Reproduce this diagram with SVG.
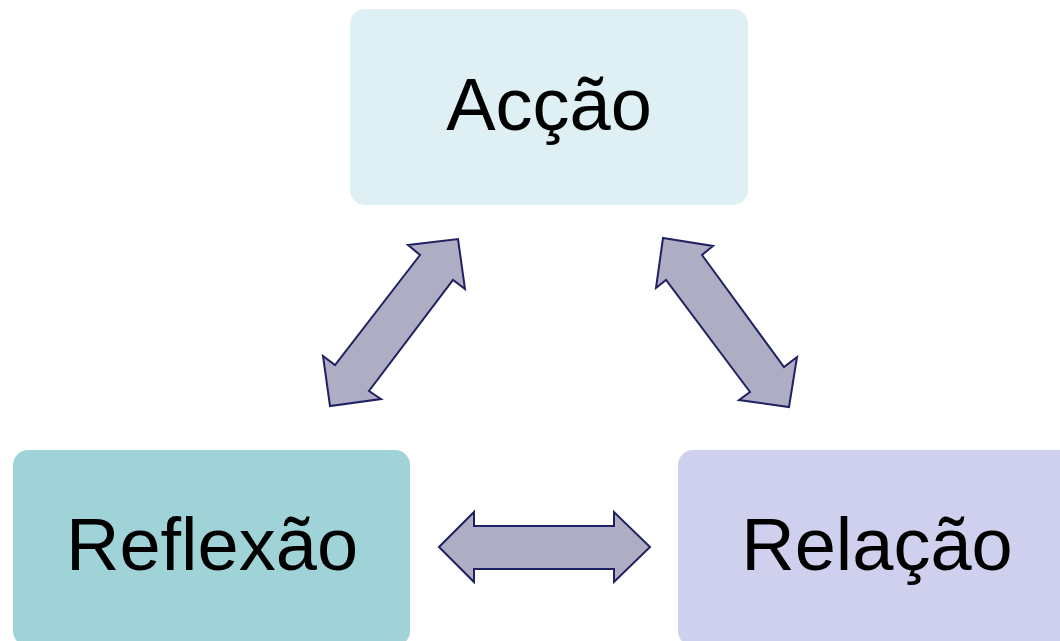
<svg xmlns="http://www.w3.org/2000/svg" width="1060" height="641" viewBox="0 0 1060 641">
<style>
.lbl{font-family:"Liberation Sans",Arial,sans-serif;font-size:74px;fill:#000;text-anchor:middle}
.arr{fill:#ADAEC4;stroke:#1F2162;stroke-width:2;stroke-linejoin:miter}
</style>
<rect width="1060" height="641" fill="#FFFFFF"/>
<g id="accao">
<rect x="350" y="9" width="398" height="196" rx="15" fill="#DFF0F4"/>
<text class="lbl" x="549" y="130">Acção</text>
</g>
<g id="reflexao">
<rect x="13" y="450" width="397" height="196" rx="15" fill="#A0D3D8"/>
<text class="lbl" x="212" y="570">Reflexão</text>
</g>
<g id="relacao">
<rect x="678" y="450" width="398" height="196" rx="15" fill="#CFCFEE"/>
<text class="lbl" x="877" y="570">Relação</text>
</g>
<g id="connectors">
<polygon class="arr" points="458,239 465,289 453,280 369,391 381,399 330,406 323,356 335,365 420,255 408,245"/>
<polygon class="arr" points="663,238 713,246 702,255 784,367 797,357 789,407 739,400 750,392 666,280 656,288"/>
<polygon class="arr" points="439,547 474,512 474,526 614,526 614,512 650,547 614,582 614,569 474,569 474,582"/>
</g>
</svg>
